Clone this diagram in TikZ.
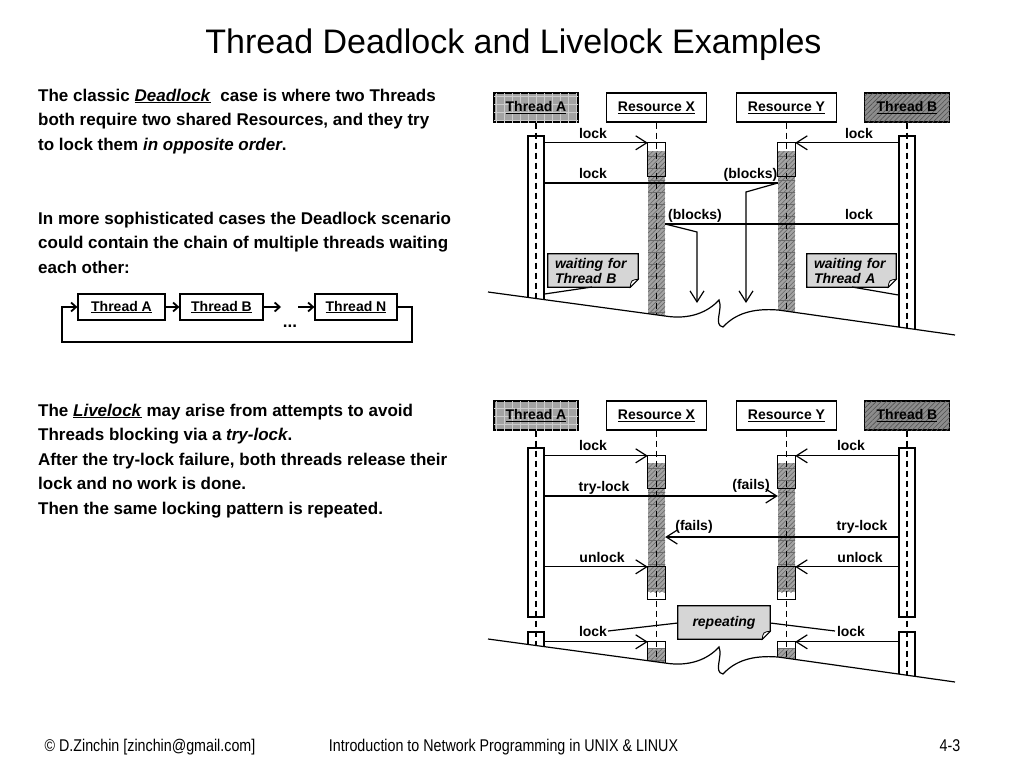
\documentclass[tikz,border=0pt]{standalone}
\usepackage{fontspec}
\setmainfont{Liberation Sans}
\newfontfamily\narrowfont[FakeStretch=0.84]{Liberation Sans}
\usetikzlibrary{arrows.meta,patterns.meta,backgrounds,calc}
\begin{document}
\begin{tikzpicture}[x=1pt,y=-1pt,
  lw/.style={line width=1.2pt},
  hdr/.style={draw, line width=1.2pt, minimum height=29pt, inner sep=0pt, font=\bfseries\fontsize{14}{16}\selectfont},
  thA/.style={hdr, minimum width=84pt, fill=black!36,
     postaction={pattern={Lines[angle=0,distance=8pt,line width=0.5pt]},pattern color=black!20},
     postaction={pattern={Lines[angle=90,distance=8pt,line width=0.5pt]},pattern color=black!20}},
  thB/.style={hdr, minimum width=85pt, fill=black!45,
     postaction={pattern={Lines[angle=45,distance=3.5pt,line width=0.6pt]},pattern color=black!68}},
  res/.style={hdr, minimum width=100pt, fill=white},
  bar/.style={draw, line width=1.2pt, fill=white, minimum width=16pt, inner sep=0pt},
  rbox/.style={fill=white, minimum width=17pt, inner sep=0pt},
  rcol/.style={fill=black!36, minimum width=17pt, inner sep=0pt,
     postaction={pattern={Lines[angle=45,distance=3.2pt,line width=0.6pt]},pattern color=black!60},
     postaction={pattern={Lines[angle=0,distance=12pt,line width=0.5pt]},pattern color=black!58}},
  life/.style={line width=1.3pt, dash pattern=on 6pt off 4pt},
  sarr/.style={line width=1.2pt, -{Straight Barb[length=11pt,width=14pt,line width=1.2pt]}},
  sline/.style={line width=1.2pt},
  lbl/.style={font=\bfseries\fontsize{14}{16}\selectfont, inner sep=0pt, anchor=base},
  txt/.style={font=\bfseries\fontsize{17}{20}\selectfont, inner sep=0pt, anchor=base west},
  note/.style={font=\bfseries\itshape\fontsize{14}{15}\selectfont, inner sep=0pt, minimum height=33pt, align=left},
  notebg/.style={line width=1.2pt, fill=black!16},
  cbox/.style={draw, line width=1.2pt, minimum height=26pt, inner sep=0pt, font=\bfseries\fontsize{14}{16}\selectfont},
  carr/.style={line width=1.2pt, -{Straight Barb[length=5pt,width=9pt,line width=1.8pt]}},
  foot/.style={font=\narrowfont\fontsize{17}{19}\selectfont, inner sep=0pt, anchor=base}
]
\useasboundingbox (0,0) rectangle (1024,768);

% ---------------- title ----------------
\node[font=\fontsize{34}{40}\selectfont, inner sep=0pt, anchor=base] (title) at (513.5,53) {Thread Deadlock and Livelock Examples};

% ---------------- left text ----------------
\node[txt] (t1) at (38,101) {The classic \underline{\textit{Deadlock}}\ \ case is where two Threads};
\node[txt] (t2) at (38,125.5) {both require two shared Resources, and they try};
\node[txt] (t3) at (38,150) {to lock them \textit{in opposite order}.};
\node[txt] (t4) at (38,224) {In more sophisticated cases the Deadlock scenario};
\node[txt] (t5) at (38,248.5) {could contain the chain of multiple threads waiting};
\node[txt] (t6) at (38,273) {each other:};

\node[txt] (t7) at (38,416) {The \underline{\textit{Livelock}} may arise from attempts to avoid};
\node[txt] (t8) at (38,440.5) {Threads blocking via a \textit{try-lock}.};
\node[txt] (t9) at (38,465) {After the try-lock failure, both threads release their};
\node[txt] (t10) at (38,489.5) {lock and no work is done.};
\node[txt] (t11) at (38,514) {Then the same locking pattern is repeated.};

% ---------------- chain ----------------
\node[cbox, minimum width=87pt] (cA) at (121.5,307) {\underline{Thread A}};
\node[cbox, minimum width=83pt] (cB) at (221.5,307) {\underline{Thread B}};
\node[cbox, minimum width=82pt] (cN) at (356,307) {\underline{Thread N}};
\coordinate (cd1) at (281,307);
\coordinate (cd2) at (298,307);
\coordinate (cr) at (412,307);
\coordinate (crb) at (412,342);
\coordinate (clb) at (62,342);
\coordinate (cl) at (62,307);
\node[font=\bfseries\fontsize{17}{18}\selectfont, inner sep=0pt, anchor=base] (dots) at (290,327) {...};
\draw[carr] (cA.east) -- (cB.west);
\draw[carr] (cB.east) -- (cd1);
\draw[carr] (cd2) -- (cN.west);
\draw[carr] (cN.east) -- (cr) -- (crb) -- (clb) -- (cl) -- (cA.west);

% ================= TOP DIAGRAM (Deadlock) =================
\node[thA] (hA1) at (536,107.5) {\underline{Thread A}};
\node[res] (hX1) at (656.5,107.5) {\underline{Resource X}};
\node[res] (hY1) at (786.5,107.5) {\underline{Resource Y}};
\node[thB] (hB1) at (907,107.5) {\underline{Thread B}};

\node[bar, minimum height=209pt] (barA1) at (536,240.5) {};
\node[bar, minimum height=209pt] (barB1) at (907,240.5) {};
\node[rbox, minimum height=33pt] (xb1) at (656.5,159.5) {};
\node[rbox, minimum height=33pt] (yb1) at (786.5,159.5) {};
\node[rcol, minimum height=194pt] (xc1) at (656.5,248) {};
\node[rcol, minimum height=194pt] (yc1) at (786.5,248) {};
\draw[lw] (xb1.north west) rectangle (xb1.south east);
\draw[lw] (yb1.north west) rectangle (yb1.south east);

\coordinate (e1) at (0,345);
\draw[life] (hA1.south) -- (hA1.south |- e1);
\draw[life] (hX1.south) -- (hX1.south |- e1);
\draw[life] (hY1.south) -- (hY1.south |- e1);
\draw[life] (hB1.south) -- (hB1.south |- e1);

% arrows
\coordinate (y183) at (0,183);
\coordinate (y224) at (0,224);
\coordinate (bendY) at (746,192);
\coordinate (tipY) at (746,303);
\coordinate (bendX) at (697,232);
\coordinate (tipX) at (697,303);
\draw[sarr] (barA1.east |- xb1.north west) -- (xb1.north west);
\draw[sarr] (barB1.west |- yb1.north east) -- (yb1.north east);
\draw[sline] (barA1.east |- y183) -- (yc1.west |- y183);
\draw[sarr] (yc1.west |- y183) -- (bendY) -- (tipY);
\draw[sline] (barB1.west |- y224) -- (xc1.east |- y224);
\draw[sarr] (xc1.east |- y224) -- (bendX) -- (tipX);

\node[lbl] (l1) at (593,138) {lock};
\node[lbl] (l2) at (859,138) {lock};
\node[lbl] (l3) at (593,178) {lock};
\node[lbl] (l4) at (750.5,178) {(blocks)};
\node[lbl] (l5) at (695,219) {(blocks)};
\node[lbl] (l6) at (859,219) {lock};

% notes
\node[note, minimum width=90pt, text width=76pt] (n1) at (593,270.5) {waiting for\\Thread B};
\node[note, minimum width=89pt, text width=75pt] (n2) at (851.5,270.5) {waiting for\\Thread A};
\begin{scope}[on background layer]
  \foreach \n in {n1,n2}{
    \draw[notebg] (\n.north west) -- (\n.north east) -- ([yshift=8pt]\n.south east) -- ([xshift=-8pt]\n.south east) -- (\n.south west) -- cycle;
    \draw[line width=0.8pt, fill=white] ([yshift=8pt]\n.south east) .. controls ([shift={(-7pt,7pt)}]\n.south east) .. ([xshift=-8pt]\n.south east) -- cycle;
  }
\end{scope}
\coordinate (n1p) at (592,287);
\coordinate (n2p) at (852,287);
\coordinate (y294) at (0,294);
\coordinate (y295) at (0,295);
\draw[sline] (n1p) -- (barA1.east |- y294);
\draw[sline] (n2p) -- (barB1.west |- y295);

% ground (top)
\path[fill=white] (488,292) -- (665,316) .. controls (690,320) and (708,312) .. (719,300) .. controls (723,310) and (713,325) .. (723,327) .. controls (735,314) and (752,308) .. (778,310) -- (955,335) -- (962,336) -- (962,382) -- (480,362) -- (480,291) -- cycle;
\draw[lw] (488,292) -- (665,316) .. controls (690,320) and (708,312) .. (719,300) .. controls (723,310) and (713,325) .. (723,327) .. controls (735,314) and (752,308) .. (778,310) -- (955,335);

% ================= BOTTOM DIAGRAM (Livelock) =================
\node[thA] (hA2) at (536,415.5) {\underline{Thread A}};
\node[res] (hX2) at (656.5,415.5) {\underline{Resource X}};
\node[res] (hY2) at (786.5,415.5) {\underline{Resource Y}};
\node[thB] (hB2) at (907,415.5) {\underline{Thread B}};

\node[bar, minimum height=169pt] (barA2) at (536,532.5) {};
\node[bar, minimum height=169pt] (barB2) at (907,532.5) {};
\node[bar, minimum height=58pt] (barA3) at (536,661) {};
\node[bar, minimum height=58pt] (barB3) at (907,661) {};

\node[rbox, minimum height=32pt] (xb2) at (656.5,472) {};
\node[rbox, minimum height=32pt] (xb3) at (656.5,583) {};
\node[rbox, minimum height=58pt] (xb4) at (656.5,671) {};
\node[rbox, minimum height=32pt] (yb2) at (786.5,472) {};
\node[rbox, minimum height=32pt] (yb3) at (786.5,583) {};
\node[rbox, minimum height=58pt] (yb4) at (786.5,671) {};
\node[rcol, minimum height=129pt] (xc2) at (656.5,527.5) {};
\node[rcol, minimum height=129pt] (yc2) at (786.5,527.5) {};
\node[rcol, minimum height=52pt] (xc3) at (656.5,674) {};
\node[rcol, minimum height=52pt] (yc3) at (786.5,674) {};
\foreach \b in {xb2,xb3,xb4,yb2,yb3,yb4}{
  \draw[lw] (\b.north west) rectangle (\b.south east);
}

\coordinate (e2) at (0,700);
\draw[life] (hA2.south) -- (hA2.south |- e2);
\draw[life] (hX2.south) -- (hX2.south |- e2);
\draw[life] (hY2.south) -- (hY2.south |- e2);
\draw[life] (hB2.south) -- (hB2.south |- e2);

\coordinate (y496) at (0,496);
\coordinate (y537) at (0,537);
\draw[sarr] (barA2.east |- xb2.north west) -- (xb2.north west);
\draw[sarr] (barB2.west |- yb2.north east) -- (yb2.north east);
\draw[sarr] (barA2.east |- y496) -- (yc2.west |- y496);
\draw[sarr] (barB2.west |- y537) -- (xc2.east |- y537);
\draw[sarr] (barA2.east |- xb3.north west) -- (xb3.north west);
\draw[sarr] (barB2.west |- yb3.north east) -- (yb3.north east);
\draw[sarr] (barA3.east |- xb4.north west) -- (xb4.north west);
\draw[sarr] (barB3.west |- yb4.north east) -- (yb4.north east);

\node[lbl] (m1) at (593,450) {lock};
\node[lbl] (m2) at (851,450) {lock};
\node[lbl] (m3) at (604,491) {try-lock};
\node[lbl] (m4) at (751,489) {(fails)};
\node[lbl] (m5) at (694,530) {(fails)};
\node[lbl] (m6) at (862,530) {try-lock};
\node[lbl] (m7) at (602,562) {unlock};
\node[lbl] (m8) at (860,562) {unlock};
\node[lbl] (m9) at (593,636) {lock};
\node[lbl] (m10) at (851,636) {lock};

\node[note, minimum width=92pt, align=center] (n3) at (724,622.5) {repeating};
\begin{scope}[on background layer]
  \draw[notebg] (n3.north west) -- (n3.north east) -- ([yshift=8pt]n3.south east) -- ([xshift=-8pt]n3.south east) -- (n3.south west) -- cycle;
  \draw[line width=0.8pt, fill=white] ([yshift=8pt]n3.south east) .. controls ([shift={(-7pt,7pt)}]n3.south east) .. ([xshift=-8pt]n3.south east) -- cycle;
\end{scope}
\coordinate (y623) at (0,623);
\coordinate (m9e) at (608,631);
\coordinate (m10w) at (835,631);
\draw[sline] (n3.west |- y623) -- (m9e);
\draw[sline] (n3.east |- y623) -- (m10w);

% ground (bottom)
\path[fill=white] (488,639) -- (665,663) .. controls (690,667) and (708,659) .. (719,647) .. controls (723,657) and (713,672) .. (723,674) .. controls (735,661) and (752,655) .. (778,657) -- (955,682) -- (962,683) -- (962,722) -- (480,704) -- (480,638) -- cycle;
\draw[lw] (488,639) -- (665,663) .. controls (690,667) and (708,659) .. (719,647) .. controls (723,657) and (713,672) .. (723,674) .. controls (735,661) and (752,655) .. (778,657) -- (955,682);

% ---------------- footer ----------------
\node[foot] (f1) at (150,751) {© D.Zinchin [zinchin@gmail.com]};
\node[foot] (f2) at (503.5,751) {Introduction to Network Programming in UNIX \& LINUX};
\node[foot] (f3) at (950,751) {4-3};
\end{tikzpicture}
\end{document}
